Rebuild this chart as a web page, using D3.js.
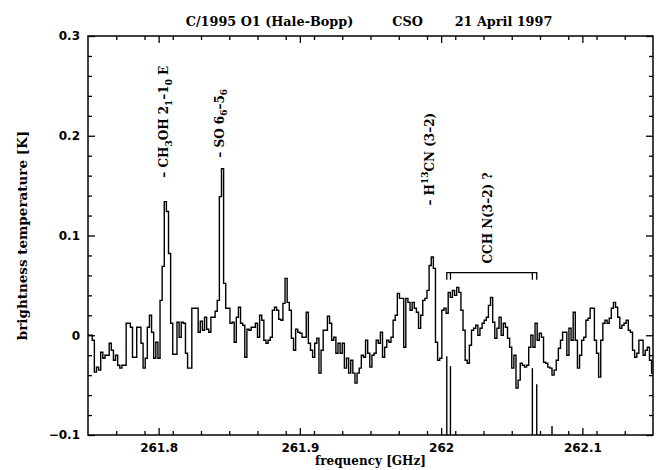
<!DOCTYPE html>
<html>
<head>
<meta charset="utf-8">
<script src="https://cdn.jsdelivr.net/npm/d3@7"></script>
<style>
  html, body { margin: 0; padding: 0; background: #fff; }
  svg { display: block; }
  .tick text { font-family: "DejaVu Sans", sans-serif; font-weight: bold; font-size: 12px; fill: #000; }
  .tick line { stroke: #000; stroke-width: 1.3; }
  .lbl { font-family: "DejaVu Serif", serif; font-weight: bold; fill: #000; }
</style>
</head>
<body>
<svg id="chart" width="661" height="470"></svg>
<script>
// Spectrum: CSO observation of comet Hale-Bopp, brightness temperature (K)
// per 1.5 MHz channel, first channel edge at 261.75 GHz.
const chanStart = 261.75;
const chanWidth = 0.0015;
const tb = [
   0.000,  0.000, -0.005, -0.037, -0.032, -0.035, -0.017, -0.023, -0.020, -0.020,
  -0.008, -0.015, -0.025, -0.020, -0.030, -0.033, -0.030, -0.030,  0.012,  0.012,
   0.008, -0.022, -0.022,  0.008,  0.008, -0.008, -0.033, -0.023,  0.008,  0.020,
   0.003, -0.023, -0.007, -0.023,  0.035,  0.069,  0.134,  0.124,  0.082,  0.012,
  -0.019, -0.019,  0.013, -0.002,  0.013,  0.012, -0.018, -0.033, -0.033,  0.027,
   0.027,  0.027,  0.003,  0.014,  0.005,  0.018,  0.006,  0.003,  0.018,  0.018,
   0.024,  0.035,  0.139,  0.167,  0.052,  0.027,  0.027,  0.012,  0.013, -0.007,
   0.018,  0.028,  0.012,  0.010, -0.022,  0.006,  0.005,  0.008,  0.008,  0.012,
  -0.002,  0.020,  0.015, -0.005, -0.008, -0.005, -0.002,  0.025,  0.028,  0.025,
   0.016,  0.015,  0.032,  0.057,  0.033,  0.025, -0.003, -0.015,  0.006,  0.003,
   0.002, -0.002, -0.002,  0.023, -0.008, -0.015, -0.022, -0.008, -0.003, -0.038,
  -0.015,  0.005,  0.005,  0.019,  0.012, -0.005, -0.002, -0.018, -0.008, -0.018,
  -0.008, -0.033, -0.023, -0.038, -0.025, -0.038, -0.048, -0.038, -0.033, -0.020,
  -0.022, -0.005, -0.018, -0.032, -0.020, -0.018, -0.005, -0.008,  0.003, -0.022,
  -0.012, -0.005, -0.007, -0.002,  0.015,  0.020,  0.042,  0.037,  0.037, -0.012,
   0.037,  0.033,  0.025,  0.033,  0.027,  0.023,  0.007,  0.020,  0.035,  0.037,
   0.045,  0.070,  0.0785, 0.067, -0.007, -0.025, -0.023,  0.025,  0.027,  0.022,
   0.043,  0.038,  0.045,  0.040,  0.048,  0.043,  0.025,  0.005, -0.025, -0.028,
  -0.010,  0.005,  0.007,  0.010,  0.000,  0.007,  0.012,  0.015,  0.018,  0.030,
   0.038,  0.013, -0.003,  0.007,  0.018,  0.000,  0.012,  0.008, -0.003, -0.012,
  -0.033, -0.020, -0.053, -0.045, -0.028, -0.030, -0.032, -0.030, -0.012,  0.000,
  -0.012,  0.012, -0.005,  0.002, -0.002, -0.027, -0.028, -0.032, -0.033, -0.040,
  -0.035, -0.025, -0.013, -0.005,  0.003,  0.003, -0.020,  0.007, -0.005,  0.023,
  -0.005, -0.033, -0.020, -0.005, -0.002,  0.015,  0.017,  0.027,  0.027, -0.005,
  -0.018, -0.042, -0.005,  0.012,  0.015,  0.012,  0.017,  0.027,  0.033,  0.028,
   0.018,  0.007,  0.010,  0.012,  0.015,  0.005,  0.003, -0.015, -0.022, -0.018,
  -0.005, -0.005, -0.020, -0.015, -0.012, -0.025, -0.038
];

// CCH N=3-2 hyperfine sticks, drawn up from the lower axis edge
const stickFreq = [262.0040, 262.0066, 262.0646, 262.0677, 262.0785];
const stickTop  = [-0.021, -0.031, -0.033, -0.049, -0.091];

// Bracket grouping the CCH components
const bracketFreq = [262.0040, 262.0066, 262.0646, 262.0677];
const bracketTop = 0.0627;
const bracketFoot = 0.0557;

// Axis ticks
const xDomain = [261.75, 262.15];
const yDomain = [-0.1, 0.3];
const xMajor = [261.8, 261.9, 262.0, 262.1];
const xMajorLabels = ["261.8", "261.9", "262", "262.1"];
const yMajor = [-0.1, 0, 0.1, 0.2, 0.3];
const yMajorLabels = ["\u22120.1", "0", "0.1", "0.2", "0.3"];
const xMinorStep = 0.02;
const yMinorStep = 0.02;

const svg = d3.select("#chart");
const L = 88, R = 653, T = 36, B = 435;
const x = d3.scaleLinear().domain(xDomain).range([L, R]);
const y = d3.scaleLinear().domain(yDomain).range([B, T]);

const xMinor = d3.range(xDomain[0] + xMinorStep, xDomain[1] - 1e-9, xMinorStep)
  .filter(v => !xMajor.some(m => Math.abs(m - v) < 1e-6));
const yMinor = d3.range(yDomain[0] + yMinorStep, yDomain[1] - 1e-9, yMinorStep)
  .filter(v => !yMajor.some(m => Math.abs(m - v) < 1e-6));

function addAxis(axis, transform) {
  const g = svg.append("g").attr("transform", transform).call(axis);
  g.select(".domain").remove();
  return g;
}
const noLabel = () => "";
// bottom
addAxis(d3.axisBottom(x).tickValues(xMajor).tickSize(-7).tickPadding(8)
  .tickFormat((d, i) => xMajorLabels[i]), `translate(0,${B})`);
addAxis(d3.axisBottom(x).tickValues(xMinor).tickSize(-4).tickFormat(noLabel), `translate(0,${B})`);
// top
addAxis(d3.axisTop(x).tickValues(xMajor).tickSize(-7).tickFormat(noLabel), `translate(0,${T})`);
addAxis(d3.axisTop(x).tickValues(xMinor).tickSize(-4).tickFormat(noLabel), `translate(0,${T})`);
// left
addAxis(d3.axisLeft(y).tickValues(yMajor).tickSize(-7).tickPadding(8)
  .tickFormat((d, i) => yMajorLabels[i]), `translate(${L},0)`);
addAxis(d3.axisLeft(y).tickValues(yMinor).tickSize(-4).tickFormat(noLabel), `translate(${L},0)`);
// right
addAxis(d3.axisRight(y).tickValues(yMajor).tickSize(-7).tickFormat(noLabel), `translate(${R},0)`);
addAxis(d3.axisRight(y).tickValues(yMinor).tickSize(-4).tickFormat(noLabel), `translate(${R},0)`);

// clip region for data
svg.append("defs").append("clipPath").attr("id", "plotclip")
  .append("rect").attr("x", L).attr("y", T).attr("width", R - L).attr("height", B - T);

// histogram-style spectrum
const pts = tb.map((v, i) => [chanStart + i * chanWidth, v]);
pts.push([chanStart + tb.length * chanWidth, tb[tb.length - 1]]);
const line = d3.line().x(d => x(d[0])).y(d => y(d[1])).curve(d3.curveStepAfter);
svg.append("path")
  .attr("clip-path", "url(#plotclip)")
  .attr("d", line(pts))
  .attr("fill", "none").attr("stroke", "#000").attr("stroke-width", 1.4)
  .attr("stroke-linejoin", "miter");

// hyperfine sticks
svg.append("g").selectAll("line").data(stickFreq).join("line")
  .attr("x1", d => x(d)).attr("x2", d => x(d))
  .attr("y1", y(yDomain[0])).attr("y2", (d, i) => y(stickTop[i]))
  .attr("stroke", "#000").attr("stroke-width", 1.4);

// bracket
const bx0 = x(bracketFreq[0]), bx1 = x(bracketFreq[bracketFreq.length - 1]);
svg.append("path")
  .attr("d", `M${bx0},${y(bracketFoot)}V${y(bracketTop)}H${bx1}V${y(bracketFoot)}`)
  .attr("fill", "none").attr("stroke", "#000").attr("stroke-width", 1.3);
svg.append("g").selectAll("line").data(bracketFreq.slice(1, -1)).join("line")
  .attr("x1", d => x(d)).attr("x2", d => x(d))
  .attr("y1", y(bracketTop)).attr("y2", y(bracketFoot))
  .attr("stroke", "#000").attr("stroke-width", 1.3);

// frame
svg.append("rect").attr("x", L).attr("y", T).attr("width", R - L).attr("height", B - T)
  .attr("fill", "none").attr("stroke", "#000").attr("stroke-width", 1.5);

// title
const titleParts = [
  { text: "C/1995 O1 (Hale-Bopp)", cx: 269.5 },
  { text: "CSO", cx: 407.5 },
  { text: "21 April 1997", cx: 503.5 }
];
svg.append("g").selectAll("text").data(titleParts).join("text")
  .attr("class", "lbl").attr("font-size", 12.8)
  .attr("x", d => d.cx).attr("y", 26).attr("text-anchor", "middle")
  .text(d => d.text);

// axis titles
svg.append("text").attr("class", "lbl").attr("font-size", 12)
  .attr("x", (L + R) / 2).attr("y", 465).attr("text-anchor", "middle")
  .text("frequency [GHz]");
svg.append("text").attr("class", "lbl").attr("font-size", 13.5)
  .attr("transform", `translate(27,${(T + B) / 2}) rotate(-90)`)
  .attr("text-anchor", "middle")
  .text("brightness temperature [K]");

// line identifications (rotated, reading upward)
const lineIds = [
  { f: 261.8057, base: 0.158, dx: 1, parts: [["– CH", 0], ["3", -1], ["OH 2", 0], ["1", -1], ["–1", 0], ["0", -1], [" E", 0]] },
  { f: 261.8437, base: 0.178, dx: 3, parts: [["– SO 6", 0], ["6", -1], ["–5", 0], ["6", -1]] },
  { f: 261.9916, base: 0.130, dx: 4, parts: [["– H", 0], ["13", 1], ["CN (3–2)", 0]] },
  { f: 262.0359, base: 0.072, dx: 0, parts: [["CCH N(3–2) ?", 0]] }
];
lineIds.forEach(d => {
  const t = svg.append("text").attr("class", "lbl").attr("font-size", 12)
    .attr("transform", `translate(${x(d.f) + d.dx + 0.5},${y(d.base)}) rotate(-90)`);
  let prev = 0;
  d.parts.forEach(([s, lvl]) => {
    const shift = lvl === -1 ? 3.5 : (lvl === 1 ? -5.5 : 0);
    t.append("tspan").attr("dy", shift - prev)
      .attr("font-size", lvl === 0 ? 12 : 9).text(s);
    prev = shift;
  });
});
</script>
</body>
</html>
